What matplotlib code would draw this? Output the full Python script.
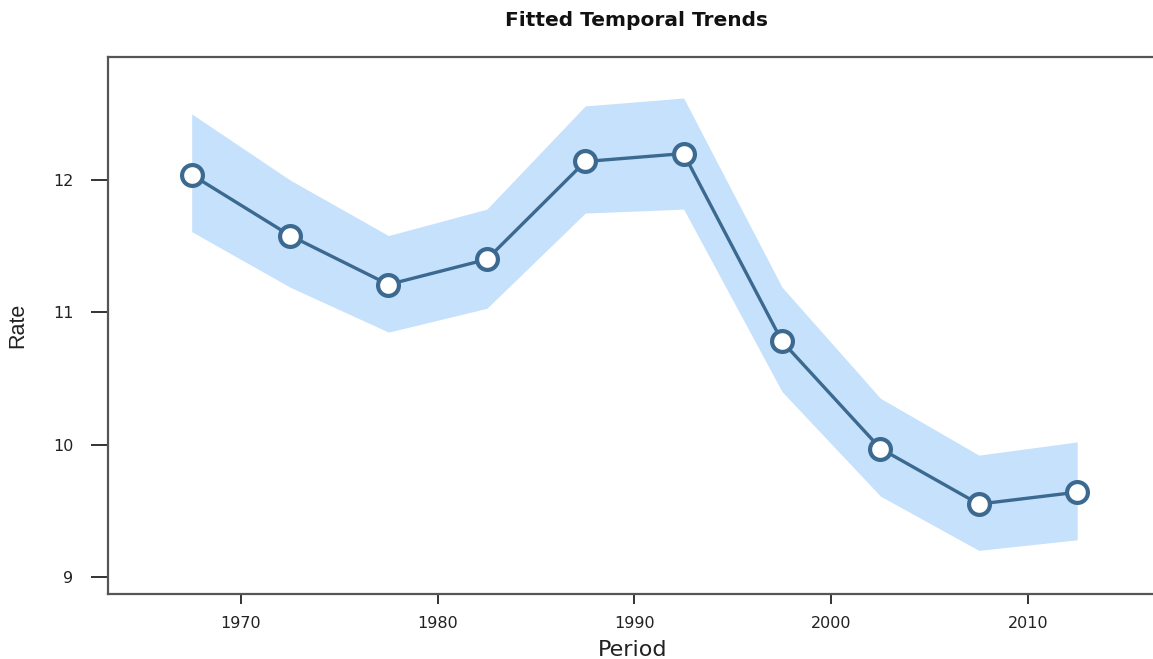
import numpy as np
import matplotlib
matplotlib.use('Agg')
import matplotlib.pyplot as plt

plt.rcParams['font.family'] = ['DejaVu Sans']

# fitted rate per 5-year period, with band
period = [1967.5, 1972.5, 1977.5, 1982.5, 1987.5, 1992.5, 1997.5, 2002.5, 2007.5, 2012.5]
rate = [12.04, 11.58, 11.21, 11.40, 12.14, 12.20, 10.78, 9.97, 9.55, 9.64]
upper = [12.50, 12.00, 11.58, 11.78, 12.56, 12.62, 11.19, 10.35, 9.92, 10.02]
lower = [11.61, 11.19, 10.85, 11.03, 11.75, 11.78, 10.40, 9.61, 9.20, 9.28]
xticks = [1970, 1980, 1990, 2000, 2010]
yticks = [9, 10, 11, 12]

line_col = '#3b6990'
band_col = '#c6e1fc'

fig = plt.figure(figsize=(11.53, 6.59), dpi=100)
ax = fig.add_axes([0.0937, 0.0986, 0.9063, 0.8149])

ax.fill_between(period, lower, upper, color=band_col, linewidth=0)
ax.plot(period, rate, color=line_col, linewidth=2.4, marker='o', markersize=15,
        markerfacecolor='white', markeredgecolor=line_col, markeredgewidth=3)

ax.set_xlim(1963.25, 2016.35)
ax.set_ylim(8.87, 12.93)
ax.set_xticks(xticks)
ax.set_yticks(yticks)

for s in ['left', 'top', 'bottom']:
    ax.spines[s].set_color('#555555')
    ax.spines[s].set_linewidth(1.6)
ax.spines['right'].set_visible(False)

ax.tick_params(axis='x', length=7, width=1.4, color='#333333', pad=9, labelsize=11.5, labelcolor='#222222')
ax.tick_params(axis='y', length=12, width=1.4, color='#333333', pad=13, labelsize=11.5, labelcolor='#222222')

fig.text(0.549, 0.004, 'Period', ha='center', va='baseline', fontsize=16, color='#222222')
ax.set_ylabel('Rate', fontsize=15.5, color='#222222', family='Liberation Sans')
ax.yaxis.set_label_coords(-0.076, 0.5)
fig.text(0.552, 0.969, 'Fitted Temporal Trends', ha='center', va='center',
         fontsize=14.5, fontweight='bold', color='#111111')

fig.savefig('out.png', dpi=100)
